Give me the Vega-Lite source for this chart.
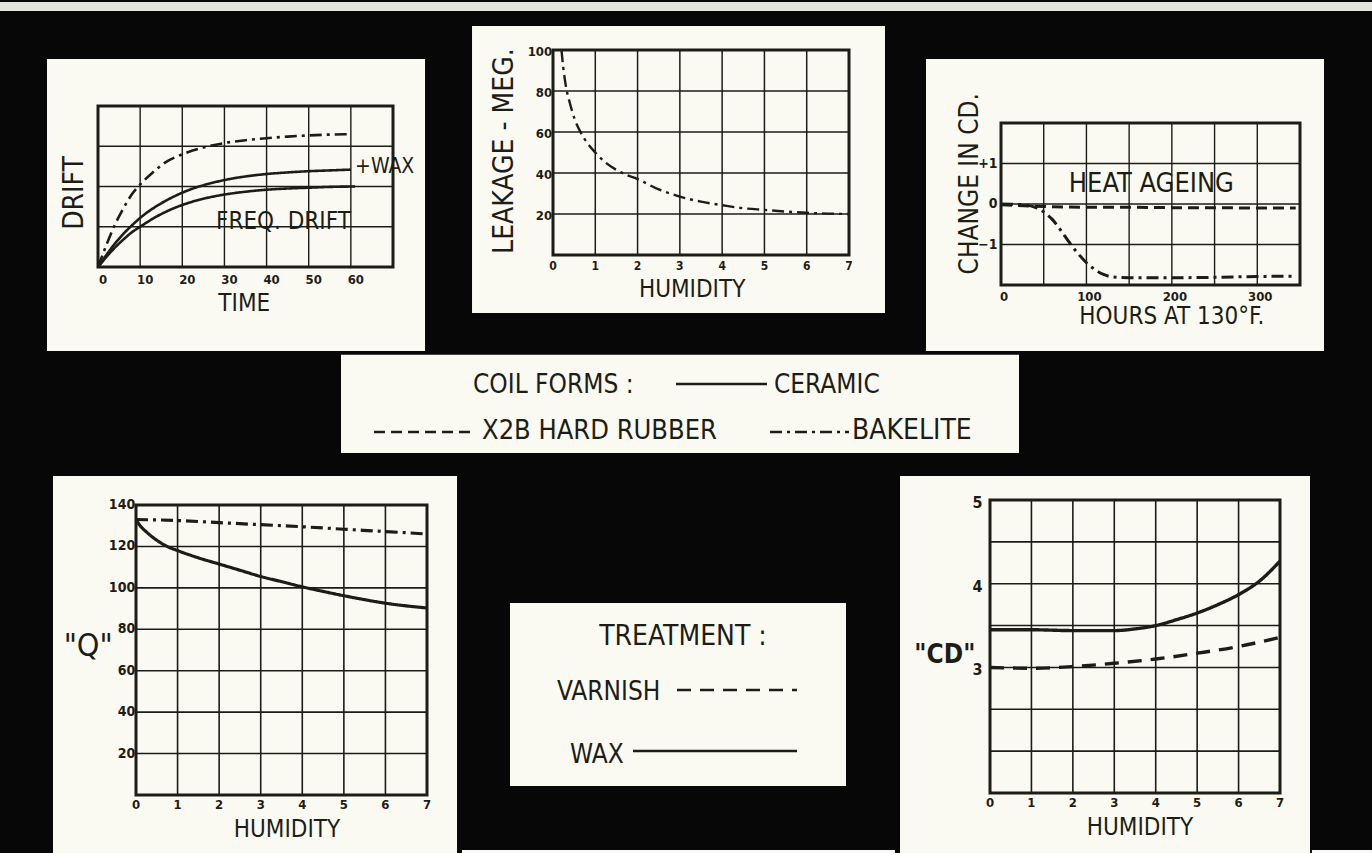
{
"$schema": "https://vega.github.io/schema/vega-lite/v6.json",
"background": "#070707",
"padding": 0,
"spacing": 0,
"resolve": {"scale": {"strokeDash": "independent", "x": "independent", "y": "independent"}},
"config": {
  "view": {"stroke": null},
  "text": {"font": "DejaVu Sans Condensed, Liberation Sans Narrow, Arial Narrow, DejaVu Sans, sans-serif", "color": "#1d1d17", "baseline": "middle", "align": "center"},
  "rule": {"color": "#1d1d17"},
  "line": {"color": "#1d1d17"}
},
"datasets": {
  "drift": [
    {"series":"BAKELITE","form":"BAKELITE","time":0,"drift":0},{"series":"BAKELITE","form":"BAKELITE","time":2,"drift":0.55},{"series":"BAKELITE","form":"BAKELITE","time":4,"drift":1.05},{"series":"BAKELITE","form":"BAKELITE","time":6,"drift":1.45},{"series":"BAKELITE","form":"BAKELITE","time":8,"drift":1.8},{"series":"BAKELITE","form":"BAKELITE","time":10,"drift":2.05},{"series":"BAKELITE","form":"BAKELITE","time":13,"drift":2.35},{"series":"BAKELITE","form":"BAKELITE","time":16,"drift":2.6},{"series":"BAKELITE","form":"BAKELITE","time":20,"drift":2.8},{"series":"BAKELITE","form":"BAKELITE","time":25,"drift":2.97},{"series":"BAKELITE","form":"BAKELITE","time":30,"drift":3.08},{"series":"BAKELITE","form":"BAKELITE","time":35,"drift":3.15},{"series":"BAKELITE","form":"BAKELITE","time":40,"drift":3.2},{"series":"BAKELITE","form":"BAKELITE","time":45,"drift":3.24},{"series":"BAKELITE","form":"BAKELITE","time":50,"drift":3.27},{"series":"BAKELITE","form":"BAKELITE","time":55,"drift":3.29},{"series":"BAKELITE","form":"BAKELITE","time":60,"drift":3.3},
    {"series":"CERAMIC + WAX","form":"CERAMIC","time":0,"drift":0},{"series":"CERAMIC + WAX","form":"CERAMIC","time":2,"drift":0.3},{"series":"CERAMIC + WAX","form":"CERAMIC","time":4,"drift":0.58},{"series":"CERAMIC + WAX","form":"CERAMIC","time":6,"drift":0.82},{"series":"CERAMIC + WAX","form":"CERAMIC","time":8,"drift":1.03},{"series":"CERAMIC + WAX","form":"CERAMIC","time":10,"drift":1.22},{"series":"CERAMIC + WAX","form":"CERAMIC","time":14,"drift":1.52},{"series":"CERAMIC + WAX","form":"CERAMIC","time":18,"drift":1.75},{"series":"CERAMIC + WAX","form":"CERAMIC","time":22,"drift":1.93},{"series":"CERAMIC + WAX","form":"CERAMIC","time":26,"drift":2.06},{"series":"CERAMIC + WAX","form":"CERAMIC","time":30,"drift":2.16},{"series":"CERAMIC + WAX","form":"CERAMIC","time":35,"drift":2.25},{"series":"CERAMIC + WAX","form":"CERAMIC","time":40,"drift":2.31},{"series":"CERAMIC + WAX","form":"CERAMIC","time":45,"drift":2.35},{"series":"CERAMIC + WAX","form":"CERAMIC","time":50,"drift":2.38},{"series":"CERAMIC + WAX","form":"CERAMIC","time":55,"drift":2.4},{"series":"CERAMIC + WAX","form":"CERAMIC","time":60,"drift":2.42},
    {"series":"CERAMIC","form":"CERAMIC","time":0,"drift":0},{"series":"CERAMIC","form":"CERAMIC","time":2,"drift":0.25},{"series":"CERAMIC","form":"CERAMIC","time":4,"drift":0.48},{"series":"CERAMIC","form":"CERAMIC","time":6,"drift":0.68},{"series":"CERAMIC","form":"CERAMIC","time":8,"drift":0.86},{"series":"CERAMIC","form":"CERAMIC","time":10,"drift":1.0},{"series":"CERAMIC","form":"CERAMIC","time":14,"drift":1.26},{"series":"CERAMIC","form":"CERAMIC","time":18,"drift":1.46},{"series":"CERAMIC","form":"CERAMIC","time":22,"drift":1.61},{"series":"CERAMIC","form":"CERAMIC","time":26,"drift":1.72},{"series":"CERAMIC","form":"CERAMIC","time":30,"drift":1.8},{"series":"CERAMIC","form":"CERAMIC","time":35,"drift":1.87},{"series":"CERAMIC","form":"CERAMIC","time":40,"drift":1.92},{"series":"CERAMIC","form":"CERAMIC","time":45,"drift":1.95},{"series":"CERAMIC","form":"CERAMIC","time":50,"drift":1.97},{"series":"CERAMIC","form":"CERAMIC","time":55,"drift":1.99},{"series":"CERAMIC","form":"CERAMIC","time":61,"drift":2.0}
  ],
  "leakage": [
    {"form":"BAKELITE","humidity":0.2,"leakage":100},{"form":"BAKELITE","humidity":0.24,"leakage":92},{"form":"BAKELITE","humidity":0.3,"leakage":83},{"form":"BAKELITE","humidity":0.4,"leakage":74},{"form":"BAKELITE","humidity":0.5,"leakage":67},{"form":"BAKELITE","humidity":0.65,"leakage":60},{"form":"BAKELITE","humidity":0.8,"leakage":55},{"form":"BAKELITE","humidity":1.0,"leakage":50},{"form":"BAKELITE","humidity":1.25,"leakage":45},{"form":"BAKELITE","humidity":1.5,"leakage":41.5},{"form":"BAKELITE","humidity":1.75,"leakage":39},{"form":"BAKELITE","humidity":2.0,"leakage":37},{"form":"BAKELITE","humidity":2.5,"leakage":32},{"form":"BAKELITE","humidity":3.0,"leakage":28.5},{"form":"BAKELITE","humidity":3.5,"leakage":26},{"form":"BAKELITE","humidity":4.0,"leakage":24.3},{"form":"BAKELITE","humidity":4.5,"leakage":22.8},{"form":"BAKELITE","humidity":5.0,"leakage":22},{"form":"BAKELITE","humidity":5.5,"leakage":21.2},{"form":"BAKELITE","humidity":6.0,"leakage":20.6},{"form":"BAKELITE","humidity":6.5,"leakage":20.2},{"form":"BAKELITE","humidity":7.0,"leakage":20}
  ],
  "ageing": [
    {"form":"X2B HARD RUBBER","hours":0,"change":-0.02},{"form":"X2B HARD RUBBER","hours":50,"change":-0.06},{"form":"X2B HARD RUBBER","hours":100,"change":-0.08},{"form":"X2B HARD RUBBER","hours":150,"change":-0.08},{"form":"X2B HARD RUBBER","hours":200,"change":-0.09},{"form":"X2B HARD RUBBER","hours":250,"change":-0.09},{"form":"X2B HARD RUBBER","hours":300,"change":-0.1},{"form":"X2B HARD RUBBER","hours":345,"change":-0.1},
    {"form":"BAKELITE","hours":0,"change":0},{"form":"BAKELITE","hours":20,"change":-0.01},{"form":"BAKELITE","hours":40,"change":-0.08},{"form":"BAKELITE","hours":50,"change":-0.2},{"form":"BAKELITE","hours":60,"change":-0.38},{"form":"BAKELITE","hours":70,"change":-0.65},{"form":"BAKELITE","hours":80,"change":-0.95},{"form":"BAKELITE","hours":90,"change":-1.22},{"form":"BAKELITE","hours":100,"change":-1.45},{"form":"BAKELITE","hours":110,"change":-1.62},{"form":"BAKELITE","hours":120,"change":-1.74},{"form":"BAKELITE","hours":130,"change":-1.8},{"form":"BAKELITE","hours":150,"change":-1.82},{"form":"BAKELITE","hours":200,"change":-1.82},{"form":"BAKELITE","hours":250,"change":-1.81},{"form":"BAKELITE","hours":300,"change":-1.79},{"form":"BAKELITE","hours":345,"change":-1.78}
  ],
  "q": [
    {"form":"BAKELITE","humidity":0,"q":133},{"form":"BAKELITE","humidity":1,"q":132.5},{"form":"BAKELITE","humidity":2,"q":131.5},{"form":"BAKELITE","humidity":3,"q":130.5},{"form":"BAKELITE","humidity":4,"q":129.5},{"form":"BAKELITE","humidity":5,"q":128.3},{"form":"BAKELITE","humidity":6,"q":127.2},{"form":"BAKELITE","humidity":7,"q":126},
    {"form":"CERAMIC","humidity":0,"q":133},{"form":"CERAMIC","humidity":0.1,"q":130},{"form":"CERAMIC","humidity":0.25,"q":127},{"form":"CERAMIC","humidity":0.5,"q":123},{"form":"CERAMIC","humidity":0.75,"q":120},{"form":"CERAMIC","humidity":1,"q":118},{"form":"CERAMIC","humidity":1.5,"q":114.5},{"form":"CERAMIC","humidity":2,"q":111.5},{"form":"CERAMIC","humidity":2.5,"q":108.5},{"form":"CERAMIC","humidity":3,"q":105.5},{"form":"CERAMIC","humidity":3.5,"q":103},{"form":"CERAMIC","humidity":4,"q":100.5},{"form":"CERAMIC","humidity":4.5,"q":98.3},{"form":"CERAMIC","humidity":5,"q":96.2},{"form":"CERAMIC","humidity":5.5,"q":94.3},{"form":"CERAMIC","humidity":6,"q":92.6},{"form":"CERAMIC","humidity":6.5,"q":91.3},{"form":"CERAMIC","humidity":7,"q":90.3}
  ],
  "cd": [
    {"treatment":"WAX","humidity":0,"cd":3.45},{"treatment":"WAX","humidity":1,"cd":3.45},{"treatment":"WAX","humidity":2,"cd":3.44},{"treatment":"WAX","humidity":3,"cd":3.44},{"treatment":"WAX","humidity":3.5,"cd":3.46},{"treatment":"WAX","humidity":4,"cd":3.5},{"treatment":"WAX","humidity":4.5,"cd":3.57},{"treatment":"WAX","humidity":5,"cd":3.65},{"treatment":"WAX","humidity":5.5,"cd":3.75},{"treatment":"WAX","humidity":6,"cd":3.87},{"treatment":"WAX","humidity":6.5,"cd":4.03},{"treatment":"WAX","humidity":7,"cd":4.27},
    {"treatment":"VARNISH","humidity":0,"cd":3.0},{"treatment":"VARNISH","humidity":1,"cd":2.99},{"treatment":"VARNISH","humidity":2,"cd":3.01},{"treatment":"VARNISH","humidity":3,"cd":3.05},{"treatment":"VARNISH","humidity":4,"cd":3.1},{"treatment":"VARNISH","humidity":5,"cd":3.17},{"treatment":"VARNISH","humidity":6,"cd":3.25},{"treatment":"VARNISH","humidity":7,"cd":3.36}
  ]
},
"vconcat": [
  {"width": 1372, "height": 9, "view": {"fill": "#e4e4df", "stroke": null}, "data": {"values": [{}]}, "mark": {"type": "text", "text": ""}, "encoding": {}},
  {"hconcat": [
    {"width": 460, "height": 341, "layer": [
      {"data": {"values": [{}]}, "mark": {"type": "rect", "fill": "#fafaf3"},
       "encoding": {"x": {"datum": -12.1, "type": "quantitative", "scale": {"domain": [0,70], "range": [98,393], "nice": false, "zero": false}, "axis": null}, "x2": {"datum": 77.6},
                    "y": {"datum": 5.17, "type": "quantitative", "scale": {"domain": [0,4], "range": [255,94], "nice": false, "zero": false}, "axis": null}, "y2": {"datum": -2.09}}},
      {"data": {"values": [{"t":0},{"t":10},{"t":20},{"t":30},{"t":40},{"t":50},{"t":60},{"t":70}]}, "mark": {"type": "rule", "strokeWidth": 1.4},
       "encoding": {"x": {"field": "t", "type": "quantitative", "scale": {"domain": [0,70], "range": [98,393], "nice": false, "zero": false}, "axis": null},
                    "y": {"datum": 0, "type": "quantitative", "scale": {"domain": [0,4], "range": [255,94], "nice": false, "zero": false}, "axis": null}, "y2": {"datum": 4}}},
      {"data": {"values": [{"d":0},{"d":1},{"d":2},{"d":3},{"d":4}]}, "mark": {"type": "rule", "strokeWidth": 1.4},
       "encoding": {"y": {"field": "d", "type": "quantitative", "scale": {"domain": [0,4], "range": [255,94], "nice": false, "zero": false}, "axis": null},
                    "x": {"datum": 0, "type": "quantitative", "scale": {"domain": [0,70], "range": [98,393], "nice": false, "zero": false}, "axis": null}, "x2": {"datum": 70}}},
      {"data": {"values": [{}]}, "mark": {"type": "rect", "fill": "transparent", "stroke": "#1d1d17", "strokeWidth": 3},
       "encoding": {"x": {"datum": 0, "type": "quantitative", "scale": {"domain": [0,70], "range": [98,393], "nice": false, "zero": false}, "axis": null}, "x2": {"datum": 70},
                    "y": {"datum": 0, "type": "quantitative", "scale": {"domain": [0,4], "range": [255,94], "nice": false, "zero": false}, "axis": null}, "y2": {"datum": 4}}},
      {"data": {"name": "drift"}, "mark": {"type": "line", "interpolate": "monotone", "strokeWidth": 2.6},
       "encoding": {"x": {"field": "time", "type": "quantitative", "scale": {"domain": [0,70], "range": [98,393], "nice": false, "zero": false}, "axis": null},
                    "y": {"field": "drift", "type": "quantitative", "scale": {"domain": [0,4], "range": [255,94], "nice": false, "zero": false}, "axis": null},
                    "detail": {"field": "series"},
                    "strokeDash": {"field": "form", "type": "nominal", "scale": {"domain": ["CERAMIC","X2B HARD RUBBER","BAKELITE"], "range": [[1,0],[11,6],[12,5,3,5]]}, "legend": null}}},
      {"data": {"values": [{"t":0},{"t":10},{"t":20},{"t":30},{"t":40},{"t":50},{"t":60}]}, "mark": {"type": "text", "fontSize": 13, "fontWeight": "bold", "dx": 5},
       "encoding": {"x": {"field": "t", "type": "quantitative", "scale": {"domain": [0,70], "range": [98,393], "nice": false, "zero": false}, "axis": null},
                    "y": {"datum": -0.33, "type": "quantitative", "scale": {"domain": [0,4], "range": [255,94], "nice": false, "zero": false}, "axis": null}, "text": {"field": "t"}}},
      {"data": {"values": [{"label": "TIME"}]}, "mark": {"type": "text", "fontSize": 24},
       "encoding": {"x": {"datum": 34.7, "type": "quantitative", "scale": {"domain": [0,70], "range": [98,393], "nice": false, "zero": false}, "axis": null},
                    "y": {"datum": -0.91, "type": "quantitative", "scale": {"domain": [0,4], "range": [255,94], "nice": false, "zero": false}, "axis": null}, "text": {"field": "label"}}},
      {"data": {"values": [{"label": "DRIFT"}]}, "mark": {"type": "text", "fontSize": 28, "angle": 270},
       "encoding": {"x": {"datum": -5.5, "type": "quantitative", "scale": {"domain": [0,70], "range": [98,393], "nice": false, "zero": false}, "axis": null},
                    "y": {"datum": 1.84, "type": "quantitative", "scale": {"domain": [0,4], "range": [255,94], "nice": false, "zero": false}, "axis": null}, "text": {"field": "label"}}},
      {"data": {"values": [{"label": "FREQ. DRIFT"}]}, "mark": {"type": "text", "fontSize": 24},
       "encoding": {"x": {"datum": 44, "type": "quantitative", "scale": {"domain": [0,70], "range": [98,393], "nice": false, "zero": false}, "axis": null},
                    "y": {"datum": 1.12, "type": "quantitative", "scale": {"domain": [0,4], "range": [255,94], "nice": false, "zero": false}, "axis": null}, "text": {"field": "label"}}},
      {"data": {"values": [{"label": "+WAX"}]}, "mark": {"type": "text", "fontSize": 21, "align": "left"},
       "encoding": {"x": {"datum": 61, "type": "quantitative", "scale": {"domain": [0,70], "range": [98,393], "nice": false, "zero": false}, "axis": null},
                    "y": {"datum": 2.48, "type": "quantitative", "scale": {"domain": [0,4], "range": [255,94], "nice": false, "zero": false}, "axis": null}, "text": {"field": "label"}}}
    ]},
    {"width": 450, "height": 341, "layer": [
      {"data": {"values": [{}]}, "mark": {"type": "rect", "fill": "#fafaf3"},
       "encoding": {"x": {"datum": -1.915, "type": "quantitative", "scale": {"domain": [0,7], "range": [93,389], "nice": false, "zero": false}, "axis": null}, "x2": {"datum": 7.851},
                    "y": {"datum": 111.7, "type": "quantitative", "scale": {"domain": [0,100], "range": [243,38], "nice": false, "zero": false}, "axis": null}, "y2": {"datum": -28.3}}},
      {"data": {"values": [{"h":0},{"h":1},{"h":2},{"h":3},{"h":4},{"h":5},{"h":6},{"h":7}]}, "mark": {"type": "rule", "strokeWidth": 1.5},
       "encoding": {"x": {"field": "h", "type": "quantitative", "scale": {"domain": [0,7], "range": [93,389], "nice": false, "zero": false}, "axis": null},
                    "y": {"datum": 0, "type": "quantitative", "scale": {"domain": [0,100], "range": [243,38], "nice": false, "zero": false}, "axis": null}, "y2": {"datum": 100}}},
      {"data": {"values": [{"m":0},{"m":20},{"m":40},{"m":60},{"m":80},{"m":100}]}, "mark": {"type": "rule", "strokeWidth": 1.5},
       "encoding": {"y": {"field": "m", "type": "quantitative", "scale": {"domain": [0,100], "range": [243,38], "nice": false, "zero": false}, "axis": null},
                    "x": {"datum": 0, "type": "quantitative", "scale": {"domain": [0,7], "range": [93,389], "nice": false, "zero": false}, "axis": null}, "x2": {"datum": 7}}},
      {"data": {"values": [{}]}, "mark": {"type": "rect", "fill": "transparent", "stroke": "#1d1d17", "strokeWidth": 3},
       "encoding": {"x": {"datum": 0, "type": "quantitative", "scale": {"domain": [0,7], "range": [93,389], "nice": false, "zero": false}, "axis": null}, "x2": {"datum": 7},
                    "y": {"datum": 0, "type": "quantitative", "scale": {"domain": [0,100], "range": [243,38], "nice": false, "zero": false}, "axis": null}, "y2": {"datum": 100}}},
      {"data": {"name": "leakage"}, "mark": {"type": "line", "interpolate": "monotone", "strokeWidth": 2.4},
       "encoding": {"x": {"field": "humidity", "type": "quantitative", "scale": {"domain": [0,7], "range": [93,389], "nice": false, "zero": false}, "axis": null},
                    "y": {"field": "leakage", "type": "quantitative", "scale": {"domain": [0,100], "range": [243,38], "nice": false, "zero": false}, "axis": null},
                    "strokeDash": {"field": "form", "type": "nominal", "scale": {"domain": ["CERAMIC","X2B HARD RUBBER","BAKELITE"], "range": [[1,0],[11,6],[12,5,3,5]]}, "legend": null}}},
      {"data": {"values": [{"m":20},{"m":40},{"m":60},{"m":80},{"m":100}]}, "mark": {"type": "text", "fontSize": 13, "fontWeight": "bold", "align": "right", "dy": 2},
       "encoding": {"y": {"field": "m", "type": "quantitative", "scale": {"domain": [0,100], "range": [243,38], "nice": false, "zero": false}, "axis": null},
                    "x": {"datum": -0.02, "type": "quantitative", "scale": {"domain": [0,7], "range": [93,389], "nice": false, "zero": false}, "axis": null}, "text": {"field": "m"}}},
      {"data": {"values": [{"h":0},{"h":1},{"h":2},{"h":3},{"h":4},{"h":5},{"h":6},{"h":7}]}, "mark": {"type": "text", "fontSize": 12, "fontWeight": "bold"},
       "encoding": {"x": {"field": "h", "type": "quantitative", "scale": {"domain": [0,7], "range": [93,389], "nice": false, "zero": false}, "axis": null},
                    "y": {"datum": -5.4, "type": "quantitative", "scale": {"domain": [0,100], "range": [243,38], "nice": false, "zero": false}, "axis": null}, "text": {"field": "h"}}},
      {"data": {"values": [{"label": "HUMIDITY"}]}, "mark": {"type": "text", "fontSize": 24},
       "encoding": {"x": {"datum": 3.29, "type": "quantitative", "scale": {"domain": [0,7], "range": [93,389], "nice": false, "zero": false}, "axis": null},
                    "y": {"datum": -17.1, "type": "quantitative", "scale": {"domain": [0,100], "range": [243,38], "nice": false, "zero": false}, "axis": null}, "text": {"field": "label"}}},
      {"data": {"values": [{"label": "LEAKAGE - MEG."}]}, "mark": {"type": "text", "fontSize": 28, "angle": 270},
       "encoding": {"x": {"datum": -1.135, "type": "quantitative", "scale": {"domain": [0,7], "range": [93,389], "nice": false, "zero": false}, "axis": null},
                    "y": {"datum": 50.7, "type": "quantitative", "scale": {"domain": [0,100], "range": [243,38], "nice": false, "zero": false}, "axis": null}, "text": {"field": "label"}}}
    ]},
    {"width": 462, "height": 341, "layer": [
      {"data": {"values": [{}]}, "mark": {"type": "rect", "fill": "#fafaf3"},
       "encoding": {"x": {"datum": -87.8, "type": "quantitative", "scale": {"domain": [0,350], "range": [91,390], "nice": false, "zero": false}, "axis": null}, "x2": {"datum": 378.1},
                    "y": {"datum": 3.58, "type": "quantitative", "scale": {"domain": [-2,2], "range": [273,111], "nice": false, "zero": false}, "axis": null}, "y2": {"datum": -3.63}}},
      {"data": {"values": [{"h":0},{"h":50},{"h":100},{"h":150},{"h":200},{"h":250},{"h":300},{"h":350}]}, "mark": {"type": "rule", "strokeWidth": 1.4},
       "encoding": {"x": {"field": "h", "type": "quantitative", "scale": {"domain": [0,350], "range": [91,390], "nice": false, "zero": false}, "axis": null},
                    "y": {"datum": -2, "type": "quantitative", "scale": {"domain": [-2,2], "range": [273,111], "nice": false, "zero": false}, "axis": null}, "y2": {"datum": 2}}},
      {"data": {"values": [{"c":-2},{"c":-1},{"c":0},{"c":1},{"c":2}]}, "mark": {"type": "rule", "strokeWidth": 1.4},
       "encoding": {"y": {"field": "c", "type": "quantitative", "scale": {"domain": [-2,2], "range": [273,111], "nice": false, "zero": false}, "axis": null},
                    "x": {"datum": 0, "type": "quantitative", "scale": {"domain": [0,350], "range": [91,390], "nice": false, "zero": false}, "axis": null}, "x2": {"datum": 350}}},
      {"data": {"values": [{}]}, "mark": {"type": "rect", "fill": "transparent", "stroke": "#1d1d17", "strokeWidth": 3},
       "encoding": {"x": {"datum": 0, "type": "quantitative", "scale": {"domain": [0,350], "range": [91,390], "nice": false, "zero": false}, "axis": null}, "x2": {"datum": 350},
                    "y": {"datum": -2, "type": "quantitative", "scale": {"domain": [-2,2], "range": [273,111], "nice": false, "zero": false}, "axis": null}, "y2": {"datum": 2}}},
      {"data": {"name": "ageing"}, "mark": {"type": "line", "interpolate": "monotone", "strokeWidth": 3},
       "encoding": {"x": {"field": "hours", "type": "quantitative", "scale": {"domain": [0,350], "range": [91,390], "nice": false, "zero": false}, "axis": null},
                    "y": {"field": "change", "type": "quantitative", "scale": {"domain": [-2,2], "range": [273,111], "nice": false, "zero": false}, "axis": null},
                    "strokeDash": {"field": "form", "type": "nominal", "scale": {"domain": ["CERAMIC","X2B HARD RUBBER","BAKELITE"], "range": [[1,0],[11,6],[12,5,3,5]]}, "legend": null}}},
      {"data": {"values": [{"c":1,"lab":"+1"},{"c":0,"lab":"0"},{"c":-1,"lab":"−1"}]}, "mark": {"type": "text", "fontSize": 14, "fontWeight": "bold", "align": "right"},
       "encoding": {"y": {"field": "c", "type": "quantitative", "scale": {"domain": [-2,2], "range": [273,111], "nice": false, "zero": false}, "axis": null},
                    "x": {"datum": -4, "type": "quantitative", "scale": {"domain": [0,350], "range": [91,390], "nice": false, "zero": false}, "axis": null}, "text": {"field": "lab"}}},
      {"data": {"values": [{"h":0},{"h":100},{"h":200},{"h":300}]}, "mark": {"type": "text", "fontSize": 13, "fontWeight": "bold", "dx": 3},
       "encoding": {"x": {"field": "h", "type": "quantitative", "scale": {"domain": [0,350], "range": [91,390], "nice": false, "zero": false}, "axis": null},
                    "y": {"datum": -2.3, "type": "quantitative", "scale": {"domain": [-2,2], "range": [273,111], "nice": false, "zero": false}, "axis": null}, "text": {"field": "h"}}},
      {"data": {"values": [{"label": "HOURS AT 130°F."}]}, "mark": {"type": "text", "fontSize": 24},
       "encoding": {"x": {"datum": 200, "type": "quantitative", "scale": {"domain": [0,350], "range": [91,390], "nice": false, "zero": false}, "axis": null},
                    "y": {"datum": -2.8, "type": "quantitative", "scale": {"domain": [-2,2], "range": [273,111], "nice": false, "zero": false}, "axis": null}, "text": {"field": "label"}}},
      {"data": {"values": [{"label": "CHANGE IN CD."}]}, "mark": {"type": "text", "fontSize": 26, "angle": 270},
       "encoding": {"x": {"datum": -36, "type": "quantitative", "scale": {"domain": [0,350], "range": [91,390], "nice": false, "zero": false}, "axis": null},
                    "y": {"datum": 0.5, "type": "quantitative", "scale": {"domain": [-2,2], "range": [273,111], "nice": false, "zero": false}, "axis": null}, "text": {"field": "label"}}},
      {"data": {"values": [{"label": "HEAT AGEING"}]}, "mark": {"type": "text", "fontSize": 27},
       "encoding": {"x": {"datum": 176, "type": "quantitative", "scale": {"domain": [0,350], "range": [91,390], "nice": false, "zero": false}, "axis": null},
                    "y": {"datum": 0.5, "type": "quantitative", "scale": {"domain": [-2,2], "range": [273,111], "nice": false, "zero": false}, "axis": null}, "text": {"field": "label"}}}
    ]}
  ], "spacing": 0, "bounds": "flush", "resolve": {"scale": {"strokeDash": "independent", "x": "independent", "y": "independent"}}},
  {"width": 1372, "height": 110, "layer": [
    {"data": {"values": [{}]}, "mark": {"type": "rect", "fill": "#fafaf3"},
     "encoding": {"x": {"datum": 341, "type": "quantitative", "scale": {"domain": [0,1372], "range": [0,1372], "nice": false, "zero": false}, "axis": null}, "x2": {"datum": 1019},
                  "y": {"datum": 1.7, "type": "quantitative", "scale": {"domain": [0,110], "range": [0,110], "nice": false, "zero": false}, "axis": null}, "y2": {"datum": 100}}},
    {"data": {"values": [{"label": "COIL FORMS :"}]}, "mark": {"type": "text", "fontSize": 26, "align": "left"},
     "encoding": {"x": {"datum": 473, "type": "quantitative", "scale": {"domain": [0,1372], "range": [0,1372], "nice": false, "zero": false}, "axis": null},
                  "y": {"datum": 32, "type": "quantitative", "scale": {"domain": [0,110], "range": [0,110], "nice": false, "zero": false}, "axis": null}, "text": {"field": "label"}}},
    {"data": {"values": [{"form": "CERAMIC"}]}, "mark": {"type": "rule", "strokeWidth": 2.5},
     "encoding": {"x": {"datum": 676, "type": "quantitative", "scale": {"domain": [0,1372], "range": [0,1372], "nice": false, "zero": false}, "axis": null}, "x2": {"datum": 767},
                  "y": {"datum": 31, "type": "quantitative", "scale": {"domain": [0,110], "range": [0,110], "nice": false, "zero": false}, "axis": null},
                  "strokeDash": {"field": "form", "type": "nominal", "scale": {"domain": ["CERAMIC","X2B HARD RUBBER","BAKELITE"], "range": [[1,0],[11,6],[12,5,3,5]]}, "legend": null}}},
    {"data": {"values": [{"form": "CERAMIC"}]}, "mark": {"type": "text", "fontSize": 26, "align": "left"},
     "encoding": {"x": {"datum": 774, "type": "quantitative", "scale": {"domain": [0,1372], "range": [0,1372], "nice": false, "zero": false}, "axis": null},
                  "y": {"datum": 32, "type": "quantitative", "scale": {"domain": [0,110], "range": [0,110], "nice": false, "zero": false}, "axis": null}, "text": {"field": "form"}}},
    {"data": {"values": [{"form": "X2B HARD RUBBER"}]}, "mark": {"type": "rule", "strokeWidth": 2.5},
     "encoding": {"x": {"datum": 374, "type": "quantitative", "scale": {"domain": [0,1372], "range": [0,1372], "nice": false, "zero": false}, "axis": null}, "x2": {"datum": 473},
                  "y": {"datum": 79, "type": "quantitative", "scale": {"domain": [0,110], "range": [0,110], "nice": false, "zero": false}, "axis": null},
                  "strokeDash": {"field": "form", "type": "nominal", "scale": {"domain": ["CERAMIC","X2B HARD RUBBER","BAKELITE"], "range": [[1,0],[11,6],[12,5,3,5]]}, "legend": null}}},
    {"data": {"values": [{"form": "X2B HARD RUBBER"}]}, "mark": {"type": "text", "fontSize": 27, "align": "left"},
     "encoding": {"x": {"datum": 482, "type": "quantitative", "scale": {"domain": [0,1372], "range": [0,1372], "nice": false, "zero": false}, "axis": null},
                  "y": {"datum": 78, "type": "quantitative", "scale": {"domain": [0,110], "range": [0,110], "nice": false, "zero": false}, "axis": null}, "text": {"field": "form"}}},
    {"data": {"values": [{"form": "BAKELITE"}]}, "mark": {"type": "rule", "strokeWidth": 2.5},
     "encoding": {"x": {"datum": 770, "type": "quantitative", "scale": {"domain": [0,1372], "range": [0,1372], "nice": false, "zero": false}, "axis": null}, "x2": {"datum": 849},
                  "y": {"datum": 79, "type": "quantitative", "scale": {"domain": [0,110], "range": [0,110], "nice": false, "zero": false}, "axis": null},
                  "strokeDash": {"field": "form", "type": "nominal", "scale": {"domain": ["CERAMIC","X2B HARD RUBBER","BAKELITE"], "range": [[1,0],[11,6],[12,5,3,5]]}, "legend": null}}},
    {"data": {"values": [{"form": "BAKELITE"}]}, "mark": {"type": "text", "fontSize": 28, "align": "left"},
     "encoding": {"x": {"datum": 852, "type": "quantitative", "scale": {"domain": [0,1372], "range": [0,1372], "nice": false, "zero": false}, "axis": null},
                  "y": {"datum": 78, "type": "quantitative", "scale": {"domain": [0,110], "range": [0,110], "nice": false, "zero": false}, "axis": null}, "text": {"field": "form"}}}
  ]},
  {"hconcat": [
    {"width": 460, "height": 393, "layer": [
      {"data": {"values": [{}]}, "mark": {"type": "rect", "fill": "#fafaf3"},
       "encoding": {"x": {"datum": -1.997, "type": "quantitative", "scale": {"domain": [0,7], "range": [136,427], "nice": false, "zero": false}, "axis": null}, "x2": {"datum": 7.722},
                    "y": {"datum": 154, "type": "quantitative", "scale": {"domain": [0,140], "range": [332,42], "nice": false, "zero": false}, "axis": null}, "y2": {"datum": -29.5}}},
      {"data": {"values": [{"h":0},{"h":1},{"h":2},{"h":3},{"h":4},{"h":5},{"h":6},{"h":7}]}, "mark": {"type": "rule", "strokeWidth": 1.6},
       "encoding": {"x": {"field": "h", "type": "quantitative", "scale": {"domain": [0,7], "range": [136,427], "nice": false, "zero": false}, "axis": null},
                    "y": {"datum": 0, "type": "quantitative", "scale": {"domain": [0,140], "range": [332,42], "nice": false, "zero": false}, "axis": null}, "y2": {"datum": 140}}},
      {"data": {"values": [{"v":0},{"v":20},{"v":40},{"v":60},{"v":80},{"v":100},{"v":120},{"v":140}]}, "mark": {"type": "rule", "strokeWidth": 1.6},
       "encoding": {"y": {"field": "v", "type": "quantitative", "scale": {"domain": [0,140], "range": [332,42], "nice": false, "zero": false}, "axis": null},
                    "x": {"datum": 0, "type": "quantitative", "scale": {"domain": [0,7], "range": [136,427], "nice": false, "zero": false}, "axis": null}, "x2": {"datum": 7}}},
      {"data": {"values": [{}]}, "mark": {"type": "rect", "fill": "transparent", "stroke": "#1d1d17", "strokeWidth": 3},
       "encoding": {"x": {"datum": 0, "type": "quantitative", "scale": {"domain": [0,7], "range": [136,427], "nice": false, "zero": false}, "axis": null}, "x2": {"datum": 7},
                    "y": {"datum": 0, "type": "quantitative", "scale": {"domain": [0,140], "range": [332,42], "nice": false, "zero": false}, "axis": null}, "y2": {"datum": 140}}},
      {"data": {"name": "q"}, "mark": {"type": "line", "interpolate": "monotone", "strokeWidth": 3.2},
       "encoding": {"x": {"field": "humidity", "type": "quantitative", "scale": {"domain": [0,7], "range": [136,427], "nice": false, "zero": false}, "axis": null},
                    "y": {"field": "q", "type": "quantitative", "scale": {"domain": [0,140], "range": [332,42], "nice": false, "zero": false}, "axis": null},
                    "strokeDash": {"field": "form", "type": "nominal", "scale": {"domain": ["CERAMIC","X2B HARD RUBBER","BAKELITE"], "range": [[1,0],[11,6],[12,5,3,5]]}, "legend": null}}},
      {"data": {"values": [{"v":20},{"v":40},{"v":60},{"v":80},{"v":100},{"v":120},{"v":140}]}, "mark": {"type": "text", "fontSize": 14, "fontWeight": "bold", "align": "right"},
       "encoding": {"y": {"field": "v", "type": "quantitative", "scale": {"domain": [0,140], "range": [332,42], "nice": false, "zero": false}, "axis": null},
                    "x": {"datum": -0.02, "type": "quantitative", "scale": {"domain": [0,7], "range": [136,427], "nice": false, "zero": false}, "axis": null}, "text": {"field": "v"}}},
      {"data": {"values": [{"h":0},{"h":1},{"h":2},{"h":3},{"h":4},{"h":5},{"h":6},{"h":7}]}, "mark": {"type": "text", "fontSize": 13, "fontWeight": "bold"},
       "encoding": {"x": {"field": "h", "type": "quantitative", "scale": {"domain": [0,7], "range": [136,427], "nice": false, "zero": false}, "axis": null},
                    "y": {"datum": -4.8, "type": "quantitative", "scale": {"domain": [0,140], "range": [332,42], "nice": false, "zero": false}, "axis": null}, "text": {"field": "h"}}},
      {"data": {"values": [{"label": "\"Q\""}]}, "mark": {"type": "text", "fontSize": 32},
       "encoding": {"x": {"datum": -1.15, "type": "quantitative", "scale": {"domain": [0,7], "range": [136,427], "nice": false, "zero": false}, "axis": null},
                    "y": {"datum": 72, "type": "quantitative", "scale": {"domain": [0,140], "range": [332,42], "nice": false, "zero": false}, "axis": null}, "text": {"field": "label"}}},
      {"data": {"values": [{"label": "HUMIDITY"}]}, "mark": {"type": "text", "fontSize": 24},
       "encoding": {"x": {"datum": 3.63, "type": "quantitative", "scale": {"domain": [0,7], "range": [136,427], "nice": false, "zero": false}, "axis": null},
                    "y": {"datum": -16.9, "type": "quantitative", "scale": {"domain": [0,140], "range": [332,42], "nice": false, "zero": false}, "axis": null}, "text": {"field": "label"}}}
    ]},
    {"width": 435, "height": 393, "layer": [
      {"data": {"values": [{}]}, "mark": {"type": "rect", "fill": "#fafaf3"},
       "encoding": {"x": {"datum": 50, "type": "quantitative", "scale": {"domain": [0,435], "range": [0,435], "nice": false, "zero": false}, "axis": null}, "x2": {"datum": 386},
                    "y": {"datum": 140, "type": "quantitative", "scale": {"domain": [0,393], "range": [0,393], "nice": false, "zero": false}, "axis": null}, "y2": {"datum": 323}}},
      {"data": {"values": [{}]}, "mark": {"type": "rect", "fill": "#fafaf3"},
       "encoding": {"x": {"datum": 2, "type": "quantitative", "scale": {"domain": [0,435], "range": [0,435], "nice": false, "zero": false}, "axis": null}, "x2": {"datum": 435},
                    "y": {"datum": 387, "type": "quantitative", "scale": {"domain": [0,393], "range": [0,393], "nice": false, "zero": false}, "axis": null}, "y2": {"datum": 393}}},
      {"data": {"values": [{"label": "TREATMENT :"}]}, "mark": {"type": "text", "fontSize": 28},
       "encoding": {"x": {"datum": 223, "type": "quantitative", "scale": {"domain": [0,435], "range": [0,435], "nice": false, "zero": false}, "axis": null},
                    "y": {"datum": 174, "type": "quantitative", "scale": {"domain": [0,393], "range": [0,393], "nice": false, "zero": false}, "axis": null}, "text": {"field": "label"}}},
      {"data": {"values": [{"treatment": "VARNISH"}]}, "mark": {"type": "text", "fontSize": 26, "align": "left"},
       "encoding": {"x": {"datum": 97, "type": "quantitative", "scale": {"domain": [0,435], "range": [0,435], "nice": false, "zero": false}, "axis": null},
                    "y": {"datum": 229, "type": "quantitative", "scale": {"domain": [0,393], "range": [0,393], "nice": false, "zero": false}, "axis": null}, "text": {"field": "treatment"}}},
      {"data": {"values": [{"treatment": "VARNISH"}]}, "mark": {"type": "rule", "strokeWidth": 2.5},
       "encoding": {"x": {"datum": 217, "type": "quantitative", "scale": {"domain": [0,435], "range": [0,435], "nice": false, "zero": false}, "axis": null}, "x2": {"datum": 337},
                    "y": {"datum": 227, "type": "quantitative", "scale": {"domain": [0,393], "range": [0,393], "nice": false, "zero": false}, "axis": null},
                    "strokeDash": {"field": "treatment", "type": "nominal", "scale": {"domain": ["WAX","VARNISH"], "range": [[1,0],[14,9]]}, "legend": null}}},
      {"data": {"values": [{"treatment": "WAX"}]}, "mark": {"type": "text", "fontSize": 26, "align": "left"},
       "encoding": {"x": {"datum": 110, "type": "quantitative", "scale": {"domain": [0,435], "range": [0,435], "nice": false, "zero": false}, "axis": null},
                    "y": {"datum": 292, "type": "quantitative", "scale": {"domain": [0,393], "range": [0,393], "nice": false, "zero": false}, "axis": null}, "text": {"field": "treatment"}}},
      {"data": {"values": [{"treatment": "WAX"}]}, "mark": {"type": "rule", "strokeWidth": 2.5},
       "encoding": {"x": {"datum": 173, "type": "quantitative", "scale": {"domain": [0,435], "range": [0,435], "nice": false, "zero": false}, "axis": null}, "x2": {"datum": 337},
                    "y": {"datum": 288, "type": "quantitative", "scale": {"domain": [0,393], "range": [0,393], "nice": false, "zero": false}, "axis": null},
                    "strokeDash": {"field": "treatment", "type": "nominal", "scale": {"domain": ["WAX","VARNISH"], "range": [[1,0],[14,9]]}, "legend": null}}}
    ]},
    {"width": 477, "height": 393, "layer": [
      {"data": {"values": [{}]}, "mark": {"type": "rect", "fill": "#fafaf3"},
       "encoding": {"x": {"datum": -2.172, "type": "quantitative", "scale": {"domain": [0,7], "range": [95,385], "nice": false, "zero": false}, "axis": null}, "x2": {"datum": 7.724},
                    "y": {"datum": 5.287, "type": "quantitative", "scale": {"domain": [1.5,5], "range": [330,37], "nice": false, "zero": false}, "axis": null}, "y2": {"datum": 0.747}}},
      {"data": {"values": [{}]}, "mark": {"type": "rect", "fill": "#fafaf3"},
       "encoding": {"x": {"datum": 7.77, "type": "quantitative", "scale": {"domain": [0,7], "range": [95,385], "nice": false, "zero": false}, "axis": null}, "x2": {"datum": 9.22},
                    "y": {"datum": 0.819, "type": "quantitative", "scale": {"domain": [1.5,5], "range": [330,37], "nice": false, "zero": false}, "axis": null}, "y2": {"datum": 0.747}}},
      {"data": {"values": [{"h":0},{"h":1},{"h":2},{"h":3},{"h":4},{"h":5},{"h":6},{"h":7}]}, "mark": {"type": "rule", "strokeWidth": 1.6},
       "encoding": {"x": {"field": "h", "type": "quantitative", "scale": {"domain": [0,7], "range": [95,385], "nice": false, "zero": false}, "axis": null},
                    "y": {"datum": 1.5, "type": "quantitative", "scale": {"domain": [1.5,5], "range": [330,37], "nice": false, "zero": false}, "axis": null}, "y2": {"datum": 5}}},
      {"data": {"values": [{"v":1.5},{"v":2},{"v":2.5},{"v":3},{"v":3.5},{"v":4},{"v":4.5},{"v":5}]}, "mark": {"type": "rule", "strokeWidth": 1.6},
       "encoding": {"y": {"field": "v", "type": "quantitative", "scale": {"domain": [1.5,5], "range": [330,37], "nice": false, "zero": false}, "axis": null},
                    "x": {"datum": 0, "type": "quantitative", "scale": {"domain": [0,7], "range": [95,385], "nice": false, "zero": false}, "axis": null}, "x2": {"datum": 7}}},
      {"data": {"values": [{}]}, "mark": {"type": "rect", "fill": "transparent", "stroke": "#1d1d17", "strokeWidth": 3},
       "encoding": {"x": {"datum": 0, "type": "quantitative", "scale": {"domain": [0,7], "range": [95,385], "nice": false, "zero": false}, "axis": null}, "x2": {"datum": 7},
                    "y": {"datum": 1.5, "type": "quantitative", "scale": {"domain": [1.5,5], "range": [330,37], "nice": false, "zero": false}, "axis": null}, "y2": {"datum": 5}}},
      {"data": {"name": "cd"}, "mark": {"type": "line", "interpolate": "monotone", "strokeWidth": 3.4},
       "encoding": {"x": {"field": "humidity", "type": "quantitative", "scale": {"domain": [0,7], "range": [95,385], "nice": false, "zero": false}, "axis": null},
                    "y": {"field": "cd", "type": "quantitative", "scale": {"domain": [1.5,5], "range": [330,37], "nice": false, "zero": false}, "axis": null},
                    "strokeDash": {"field": "treatment", "type": "nominal", "scale": {"domain": ["WAX","VARNISH"], "range": [[1,0],[14,9]]}, "legend": null}}},
      {"data": {"values": [{"v":3},{"v":4},{"v":5}]}, "mark": {"type": "text", "fontSize": 16, "fontWeight": "bold", "dy": 3},
       "encoding": {"y": {"field": "v", "type": "quantitative", "scale": {"domain": [1.5,5], "range": [330,37], "nice": false, "zero": false}, "axis": null},
                    "x": {"datum": -0.3, "type": "quantitative", "scale": {"domain": [0,7], "range": [95,385], "nice": false, "zero": false}, "axis": null}, "text": {"field": "v"}}},
      {"data": {"values": [{"h":0},{"h":1},{"h":2},{"h":3},{"h":4},{"h":5},{"h":6},{"h":7}]}, "mark": {"type": "text", "fontSize": 13, "fontWeight": "bold"},
       "encoding": {"x": {"field": "h", "type": "quantitative", "scale": {"domain": [0,7], "range": [95,385], "nice": false, "zero": false}, "axis": null},
                    "y": {"datum": 1.38, "type": "quantitative", "scale": {"domain": [1.5,5], "range": [330,37], "nice": false, "zero": false}, "axis": null}, "text": {"field": "h"}}},
      {"data": {"values": [{"label": "\"CD\""}]}, "mark": {"type": "text", "fontSize": 26, "fontWeight": "bold"},
       "encoding": {"x": {"datum": -1.09, "type": "quantitative", "scale": {"domain": [0,7], "range": [95,385], "nice": false, "zero": false}, "axis": null},
                    "y": {"datum": 3.15, "type": "quantitative", "scale": {"domain": [1.5,5], "range": [330,37], "nice": false, "zero": false}, "axis": null}, "text": {"field": "label"}}},
      {"data": {"values": [{"label": "HUMIDITY"}]}, "mark": {"type": "text", "fontSize": 24},
       "encoding": {"x": {"datum": 3.62, "type": "quantitative", "scale": {"domain": [0,7], "range": [95,385], "nice": false, "zero": false}, "axis": null},
                    "y": {"datum": 1.082, "type": "quantitative", "scale": {"domain": [1.5,5], "range": [330,37], "nice": false, "zero": false}, "axis": null}, "text": {"field": "label"}}}
    ]}
  ], "spacing": 0, "bounds": "flush", "resolve": {"scale": {"strokeDash": "independent", "x": "independent", "y": "independent"}}}
]
}
